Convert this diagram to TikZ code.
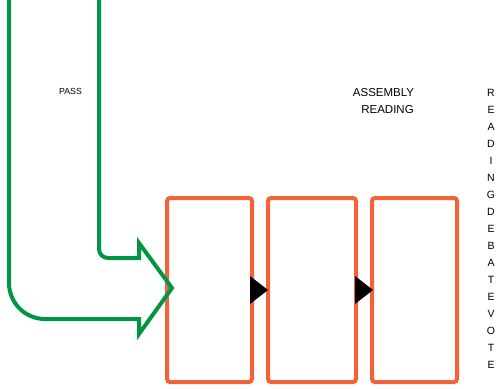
\documentclass[tikz,border=0pt]{standalone}
\usepackage{fontspec}
\setmainfont{Liberation Sans}
\usetikzlibrary{calc}
\definecolor{passgreen}{RGB}{0,150,70}
\definecolor{boxorange}{RGB}{242,100,56}
\begin{document}
\begin{tikzpicture}[x=1pt,y=-1pt,
  stagebox/.style={draw=boxorange, line width=4pt, rounded corners=3pt, rectangle, inner sep=0pt, minimum height=184pt},
  flowtri/.style={fill=black, draw=none},
  greenpath/.style={draw=passgreen, line width=4pt, line join=miter},
  lbl/.style={inner sep=0pt, font=\fontsize{11.5}{13}\selectfont},
  smalllbl/.style={inner sep=0pt, font=\fontsize{8.8}{10}\selectfont},
  vletter/.style={inner sep=0pt, font=\fontsize{10.5}{12}\selectfont}]
\useasboundingbox (0,0) rectangle (503,388);
\node[stagebox, minimum width=85pt] (b1) at (209.5,290) {};
\node[stagebox, minimum width=88pt] (b2) at (312,290) {};
\node[stagebox, minimum width=85pt] (b3) at (414.5,290) {};
% green block arrow
\coordinate (itop) at (99,0);
\coordinate (otop) at (9,0);
\coordinate (tip) at (172,288);
\draw[greenpath] (itop) -- (99,249) arc(180:90:9) -- (139,258) -- (139,243) -- (tip) -- (139,334) -- (139,319)
  -- (45,319) arc(90:180:36) -- (otop);
% triangles between boxes
\fill[flowtri] ($(b1.east)+(-4,-14)$) -- ($(b1.east)+(-4,14)$) -- ($(b2.west)+(2,0)$) -- cycle;
\fill[flowtri] ($(b2.east)+(-3,-14)$) -- ($(b2.east)+(-3,14)$) -- ($(b3.west)+(3,0)$) -- cycle;
% labels
\node[smalllbl] (pass) at (70.5,91.5) {PASS};
\node[lbl] (asm) at (383.5,93) {ASSEMBLY};
\node[lbl] (rdg) at (387.5,110) {READING};
\foreach \ch [count=\i from 0] in {R,E,A,D,I,N,G,D,E,B,A,T,E,V,O,T,E}
  \node[vletter] (v\i) at (491,93+17*\i) {\ch};
\end{tikzpicture}
\end{document}
